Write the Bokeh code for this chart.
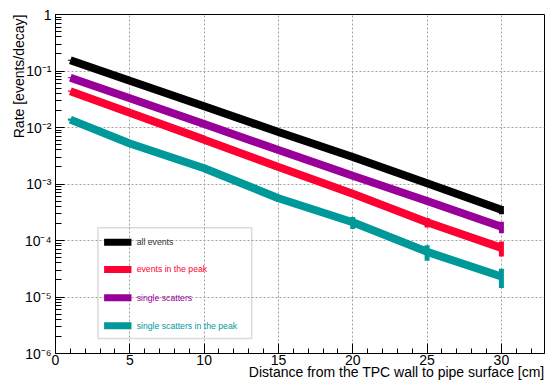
from bokeh.core.properties import value
from bokeh.embed import file_html
from bokeh.models import BoxAnnotation, CustomJSTickFormatter, FixedTicker, Range1d, Title
from bokeh.plotting import figure
from bokeh.resources import INLINE

# Rate vs. distance between the TPC wall and the pipe surface
distance = [1, 5, 10, 15, 20, 25, 30]

all_events = [0.155, 0.067, 0.0237, 0.0083, 0.0030, 0.00103, 0.00035]
all_events_err = [0.003, 0.0012, 0.0005, 0.00025, 0.00012, 0.00012, 0.00006]

peak_events = [0.044, 0.0182, 0.0061, 0.0020, 0.00067, 0.00021, 0.000074]
peak_events_err = [0.0012, 0.0005, 0.00022, 0.0001, 0.00006, 0.00004, 0.000022]

single_scatters = [0.076, 0.033, 0.0115, 0.0040, 0.0014, 0.00050, 0.000175]
single_scatters_err = [0.0018, 0.0008, 0.00035, 0.00018, 0.0001, 0.00006, 0.00004]

single_peak = [0.0138, 0.0052, 0.0019, 0.00056, 0.00021, 0.000063, 0.000023]
single_peak_err = [0.0006, 0.00028, 0.00015, 0.00008, 0.00005, 0.000019, 0.0000085]

series = [
    ("all events", all_events, all_events_err, "#000000"),
    ("events in the peak", peak_events, peak_events_err, "#ff0033"),
    ("single scatters", single_scatters, single_scatters_err, "#990099"),
    ("single scatters in the peak", single_peak, single_peak_err, "#009999"),
]

x_major = [0, 5, 10, 15, 20, 25, 30]
x_minor = list(range(0, 33))
y_major = [10.0 ** e for e in range(-6, 1)]
y_minor = [m * 10.0 ** e for e in range(-6, 0) for m in range(2, 10)]

FONT = "Liberation Sans"

p = figure(
    width=545, height=381,
    x_range=Range1d(0, 32.9), y_range=Range1d(1e-6, 1),
    y_axis_type="log",
    output_backend="svg", toolbar_location=None,
    min_border_left=55, min_border_right=1,
    min_border_top=14, min_border_bottom=28,
    background_fill_color="white", border_fill_color="white",
)
p.outline_line_color = "black"
p.outline_line_width = 1

# axes: ticks drawn inward, ROOT style
p.xaxis.ticker = FixedTicker(ticks=x_major, minor_ticks=x_minor)
p.yaxis.ticker = FixedTicker(ticks=y_major, minor_ticks=y_minor)
p.yaxis.formatter = CustomJSTickFormatter(code="""
    const e = Math.round(Math.log10(tick));
    if (e === 0) return "1";
    const sup = {"-": "\u207b", "0": "\u2070", "1": "\u00b9", "2": "\u00b2", "3": "\u00b3",
                 "4": "\u2074", "5": "\u2075", "6": "\u2076", "7": "\u2077", "8": "\u2078", "9": "\u2079"};
    return "10" + String(e).split("").map(c => sup[c]).join("");
""")
for ax in (p.xaxis[0], p.yaxis[0]):
    ax.major_tick_out = 0
    ax.minor_tick_out = 0
    ax.axis_line_color = "black"
    ax.major_tick_line_color = "black"
    ax.minor_tick_line_color = "black"
    ax.major_label_text_font = FONT
    ax.major_label_text_font_size = "14px"
    ax.major_label_text_color = "black"
p.xaxis.major_tick_in = 10
p.xaxis.minor_tick_in = 5
p.xaxis.major_label_standoff = 1
p.yaxis.major_tick_in = 9
p.yaxis.minor_tick_in = 6
p.yaxis.major_label_standoff = 4

# axis titles, right-aligned (top-aligned for the vertical one)
p.add_layout(Title(text="Distance from the TPC wall to pipe surface [cm]", align="right",
                   vertical_align="top", standoff=-8, offset=0,
                   text_font=FONT, text_font_size="14px", text_font_style="normal",
                   text_color="black"), "below")
p.add_layout(Title(text="Rate [events/decay]", align="right",
                   vertical_align="bottom", standoff=-10, offset=0,
                   text_font=FONT, text_font_size="14px", text_font_style="normal",
                   text_color="black"), "left")

for g in (p.xgrid, p.ygrid):
    g.grid_line_color = "#a0a0a0"
    g.grid_line_dash = "2 2"
    g.grid_line_width = 1
p.xgrid.ticker = FixedTicker(ticks=x_major)
p.ygrid.ticker = FixedTicker(ticks=y_major)

# curves with error bars
for name, ys, errs, color in series:
    p.line(distance, ys, line_width=8, line_color=color)
    lo = [y - e for y, e in zip(ys, errs)]
    hi = [y + e for y, e in zip(ys, errs)]
    p.segment(x0=distance, y0=lo, x1=distance, y1=hi, line_width=5, line_color=color)

# legend box
leg_left, leg_right = 2.86, 13.2
leg_top, leg_bottom = 10 ** -3.774, 10 ** -5.734
p.add_layout(BoxAnnotation(left=leg_left, right=leg_right, top=leg_top, bottom=leg_bottom,
                           fill_alpha=0, line_color="#888888", line_width=1.5))
entry_y = [10 ** -4.029, 10 ** -4.512, 10 ** -5.013, 10 ** -5.509]
for (name, ys, errs, color), ey in zip(series, entry_y):
    p.segment(x0=[3.27], y0=[ey], x1=[5.11], y1=[ey], line_width=7, line_color=color)
    p.text(x=[5.46], y=[ey], text=[name], text_color="#333333" if color == "#000000" else color,
           text_font=value(FONT), text_font_size="8.7px", text_baseline="middle", text_align="left")

open("out.html", "w").write(file_html(p, INLINE))
